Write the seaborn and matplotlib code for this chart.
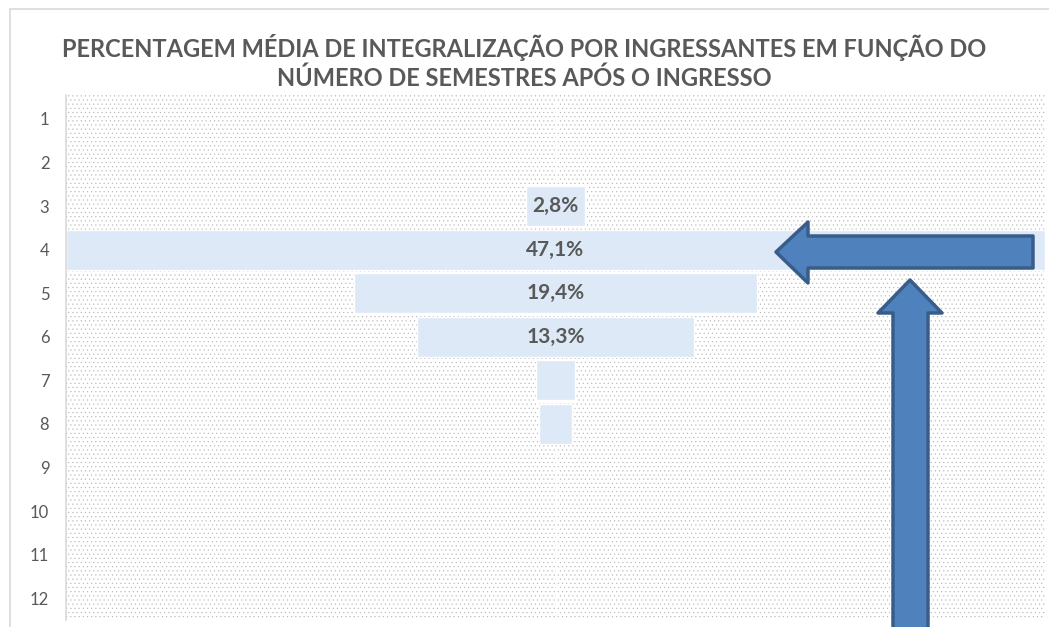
import seaborn as sns
import matplotlib.pyplot as plt
import pandas as pd
from matplotlib.patches import Polygon, Rectangle

# dados
semestres = ['1', '2', '3', '4', '5', '6', '7', '8', '9', '10', '11', '12']
percentuais = [0, 0, 2.8, 47.1, 19.4, 13.3, 1.9, 1.6, 0, 0, 0, 0]
rotulos = ['', '', '2,8%', '47,1%', '19,4%', '13,3%', '', '', '', '', '', '']

titulo = ('PERCENTAGEM MÉDIA DE INTEGRALIZAÇÃO POR INGRESSANTES EM FUNÇÃO DO\n'
          'NÚMERO DE SEMESTRES APÓS O INGRESSO')

df = pd.DataFrame({'semestre': semestres, 'pct': percentuais})

sns.set_style('white')
plt.rcParams['font.family'] = ['Lato', 'DejaVu Sans']
plt.rcParams['hatch.linewidth'] = 0.3

W, H = 1049, 627
fig = plt.figure(figsize=(W / 100, H / 100), dpi=100)
ax = fig.add_axes([66 / W, 1 - 620 / H, (1045 - 66) / W, (620 - 95) / H])

# fundo pontilhado
ax.add_patch(Rectangle((0, 0), 1, 1, transform=ax.transAxes, fill=False,
                       hatch='....', edgecolor='#b3b3b3', lw=0, zorder=0))

sns.barplot(data=df, x='pct', y='semestre', order=semestres, orient='h',
            color='#dde9f6', saturation=1, width=0.92, ax=ax, zorder=2)

xmax = max(percentuais)
# centraliza as barras (funil)
for p in ax.patches:
    if isinstance(p, Rectangle) and not p.get_hatch():
        p.set_x((xmax - p.get_width()) / 2)

for i, r in enumerate(rotulos):
    if r:
        ax.text(xmax / 2, i, r, ha='center', va='center', fontsize=15,
                fontweight='bold', color='#595959', zorder=3)

ax.set_xlim(0, xmax)
ax.set_ylim(11.5, -0.55)
ax.set_xlabel('')
ax.set_ylabel('')
ax.set_xticks([])
ax.tick_params(axis='y', length=0, labelsize=12, labelcolor='#595959', pad=12)
for s in ['top', 'right', 'bottom']:
    ax.spines[s].set_visible(False)
ax.spines['left'].set_color('#d9d9d9')
ax.spines['left'].set_linewidth(1.2)

fig.text(0.5, 1 - 62 / H, titulo, ha='center', va='center', fontsize=17,
         fontweight='bold', color='#595959', linespacing=1.3)

# borda do gráfico
fig.patches.append(Rectangle((10 / W, -0.1), 1.2, 1 - 9 / H + 0.1,
                             transform=fig.transFigure, fill=False,
                             edgecolor='#d9d9d9', lw=1.2, zorder=0))


def seta(pts):
    xy = [(x / W, 1 - y / H) for x, y in pts]
    fig.patches.append(Polygon(xy, closed=True, transform=fig.transFigure,
                               facecolor='#4f81bd', edgecolor='#385d8a',
                               lw=2.5, joinstyle='round', zorder=5))


seta([(776, 252), (808, 222), (808, 236), (1033, 236), (1033, 268),
      (808, 268), (808, 283)])
seta([(910, 280), (942, 313), (928, 313), (928, 640), (893, 640),
      (893, 313), (878, 313)])

fig.savefig('out.png', dpi=100)
